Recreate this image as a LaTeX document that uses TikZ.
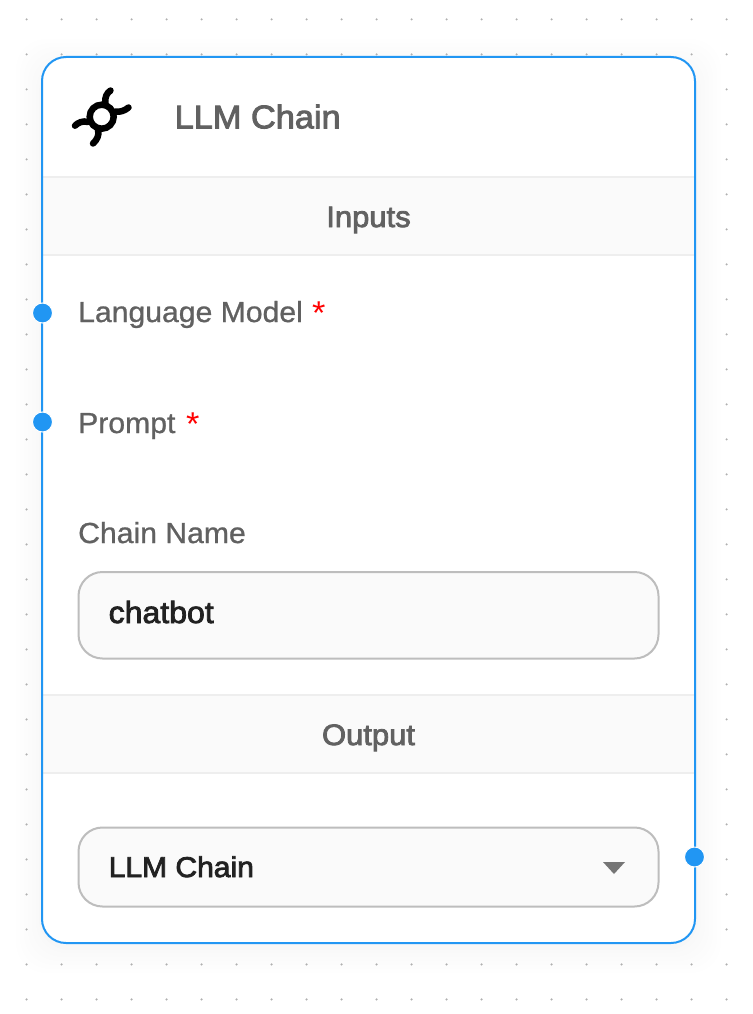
\documentclass[tikz,border=0pt]{standalone}
\usepackage{fontspec}
\setmainfont{Liberation Sans}
\newfontfamily\medfont[FakeStretch=1.05]{Liberation Sans}
\newfontfamily\regfont[FakeStretch=1.04]{Liberation Sans}
\usetikzlibrary{calc}
\definecolor{flowblue}{HTML}{2196F3}
\definecolor{txtgrey}{HTML}{616161}
\definecolor{darktxt}{HTML}{212121}
\definecolor{barfill}{HTML}{FAFAFA}
\definecolor{barline}{HTML}{EEEEEE}
\definecolor{boxline}{HTML}{BDBDBD}
\definecolor{dotgrey}{HTML}{B0B0B0}
\definecolor{caretgrey}{HTML}{757575}
\tikzset{
  x=1pt,y=-1pt,
  card/.style={draw=flowblue,line width=2pt,rounded corners=24pt},
  bar/.style={fill=barfill,draw=none},
  barrule/.style={draw=barline,line width=1.5pt},
  fieldbox/.style={draw=boxline,line width=2pt,fill=barfill,rounded corners=24pt},
  handle/.style={circle,fill=flowblue,draw=white,line width=1pt,minimum size=20pt,inner sep=0pt},
  heavier/.style={execute at begin node={\special{pdf:code 2 Tr #1 w}},execute at end node={\special{pdf:code 0 Tr}}},
  label/.style={anchor=base west,inner sep=0pt,text=txtgrey,heavier=0.25,font=\regfont\fontsize{29}{32}\selectfont},
  bartitle/.style={anchor=base,inner sep=0pt,text=txtgrey,heavier=0.8,font=\medfont\fontsize{29.5}{32}\selectfont},
  cardtitle/.style={anchor=base west,inner sep=0pt,text=txtgrey,heavier=0.9,font=\medfont\fontsize{32.7}{38}\selectfont},
  reqstar/.style={anchor=base west,inner sep=0pt,text=red,font=\regfont\fontsize{33}{38}\selectfont},
  value/.style={anchor=base west,inner sep=0pt,text=darktxt,heavier=0.8,font=\medfont\fontsize{28.6}{32}\selectfont},
  iconline/.style={draw=black,line width=6.5pt,line cap=round},
}
\begin{document}
\begin{tikzpicture}
\useasboundingbox (0,0) rectangle (752,1014);
\fill[white] (0,0) rectangle (752,1014);
% soft shadow
\foreach \d/\o in {26/0.003,22/0.003,18/0.004,14/0.004,10/0.005,6/0.005,3/0.006}{
  \fill[black,opacity=\o,rounded corners=30pt] (42-\d,57-\d+8) rectangle (695+\d,943+\d+4);
}
% dot grid
\foreach \i in {0,...,20}{
  \foreach \j in {0,...,28}{
    \fill[dotgrey] (26.6+35*\i,19.4+35*\j) circle (1.2pt);
  }
}
% card
\fill[white,rounded corners=24pt] (42,57) rectangle (695,943);
\fill[bar] (43,177) rectangle (694,255);
\draw[barrule] (43,177) -- (694,177);
\draw[barrule] (43,255) -- (694,255);
\fill[bar] (43,695) rectangle (694,773);
\draw[barrule] (43,695) -- (694,695);
\draw[barrule] (43,773) -- (694,773);
\draw[card] (42,57) rectangle (695,943);
% icon
\coordinate (ic) at (101.7,116.7);
\draw[draw=black,line width=6.5pt] (ic) circle (12pt);
\draw[iconline] (105.5,103) .. controls (104.5,97) and (107,93) .. (110.5,90.5);
\draw[iconline] (115.5,111.5) .. controls (120,112.5) and (125,110.5) .. (128.5,107.5);
\draw[iconline] (88,122) .. controls (83,120.5) and (78,122.5) .. (75,125.7);
\draw[iconline] (98,130) .. controls (99.5,135) and (97,140) .. (93,143.5);
% texts
\node[cardtitle] (title) at (174.5,128.3) {LLM Chain};
\node[bartitle] (inputs) at (368.5,227) {Inputs};
\node[label] (lm) at (78,322) {Language Model};
\node[reqstar] (lmstar) at (312,324) {*};
\node[label] (prompt) at (78,433) {Prompt};
\node[reqstar] (pstar) at (186,435) {*};
\node[label] (cname) at (78,543) {Chain Name};
\node[bartitle] (output) at (368.5,745) {Output};
% fields
\draw[fieldbox] (78.5,572) rectangle (658.5,658.5);
\node[value,font=\medfont\fontsize{30.5}{32}\selectfont] (chatbot) at (108.5,623) {chatbot};
\draw[fieldbox] (78.5,827.5) rectangle (658.5,906.5);
\node[value] (llmval) at (108.5,877) {LLM Chain};
\fill[caretgrey] (603,862) -- (625,862) -- (614,874) -- cycle;
% handles
\node[handle] (h1) at (42.5,313) {};
\node[handle] (h2) at (42.5,422) {};
\node[handle] (h3) at (694.5,857) {};
\end{tikzpicture}
\end{document}
